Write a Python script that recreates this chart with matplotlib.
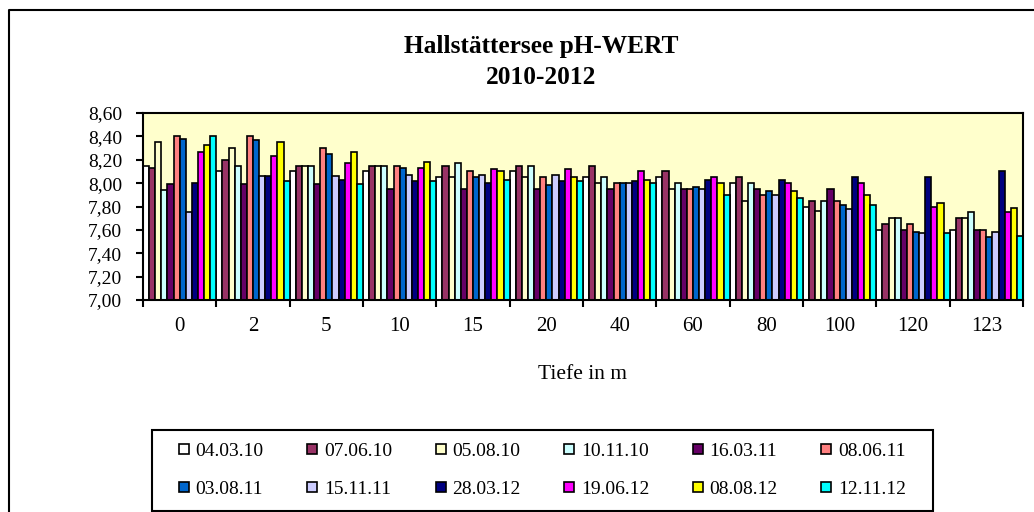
import matplotlib
matplotlib.use("Agg")
import matplotlib.pyplot as plt
import numpy as np
from matplotlib.lines import Line2D
from matplotlib.patches import Rectangle
from matplotlib.ticker import FixedLocator, FuncFormatter

plt.rcParams['font.family'] = ['Liberation Serif', 'DejaVu Serif']

depths = ["0", "2", "5", "10", "15", "20", "40", "60", "80", "100", "120", "123"]
dates = ["04.03.10", "07.06.10", "05.08.10", "10.11.10", "16.03.11", "08.06.11",
         "03.08.11", "15.11.11", "28.03.12", "19.06.12", "08.08.12", "12.11.12"]

s_040310 = [8.15, 8.10, 8.10, 8.10, 8.05, 8.10, 8.05, 8.05, 8.00, 7.80, 7.60, 7.60]
s_070610 = [8.13, 8.20, 8.15, 8.15, 8.15, 8.15, 8.15, 8.10, 8.05, 7.85, 7.65, 7.70]
s_050810 = [8.35, 8.30, 8.15, 8.15, 8.05, 8.05, 8.00, 7.95, 7.85, 7.76, 7.70, 7.70]
s_101110 = [7.94, 8.15, 8.15, 8.15, 8.17, 8.15, 8.05, 8.00, 8.00, 7.85, 7.70, 7.75]
s_160311 = [7.99, 7.99, 7.99, 7.95, 7.95, 7.95, 7.95, 7.95, 7.95, 7.95, 7.60, 7.60]
s_080611 = [8.40, 8.40, 8.30, 8.15, 8.10, 8.05, 8.00, 7.95, 7.90, 7.85, 7.65, 7.60]
s_030811 = [8.38, 8.37, 8.25, 8.13, 8.05, 7.98, 8.00, 7.97, 7.93, 7.81, 7.58, 7.54]
s_151111 = [7.75, 8.06, 8.06, 8.07, 8.07, 8.07, 8.00, 7.95, 7.90, 7.78, 7.57, 7.58]
s_280312 = [8.00, 8.06, 8.03, 8.02, 8.00, 8.02, 8.02, 8.03, 8.03, 8.05, 8.05, 8.10]
s_190612 = [8.27, 8.23, 8.17, 8.13, 8.12, 8.12, 8.10, 8.05, 8.00, 8.00, 7.80, 7.75]
s_080812 = [8.33, 8.35, 8.27, 8.18, 8.10, 8.05, 8.03, 8.00, 7.93, 7.90, 7.83, 7.79]
s_121112 = [8.40, 8.02, 7.99, 8.02, 8.03, 8.02, 8.00, 7.90, 7.87, 7.81, 7.57, 7.55]

series = [s_040310, s_070610, s_050810, s_101110, s_160311, s_080611,
          s_030811, s_151111, s_280312, s_190612, s_080812, s_121112]
colors = ['#FFFFFF', '#993366', '#FFFFCC', '#CCFFFF', '#660066', '#FF8080',
          '#0066CC', '#CCCCFF', '#000080', '#FF00FF', '#FFFF00', '#00FFFF']

W, H = 1034, 512
fig = plt.figure(figsize=(W / 100, H / 100), dpi=100)

def fx(px):
    return px / W

def fy(py):
    return 1 - py / H

ax = fig.add_axes([fx(143), fy(300), fx(1023) - fx(143), fy(113) - fy(300)])
ax.set_facecolor('#FFFFCC')

n = len(series)
bw = 1.0 / n
xc = np.arange(len(depths))
for j, (vals, c) in enumerate(zip(series, colors)):
    ax.bar(xc - 0.5 + (j + 0.5) * bw, vals, width=bw, color=c,
           edgecolor='black', linewidth=1.2, zorder=2)

ax.set_xlim(-0.5, len(depths) - 0.5)
ax.set_ylim(7.0, 8.6)
ax.set_yticks(np.arange(7.0, 8.61, 0.2))
ax.yaxis.set_major_formatter(FuncFormatter(lambda v, p: f"{v:.2f}".replace('.', ',')))
ax.tick_params(axis='y', direction='out', length=5, width=1.5, pad=10, labelsize=14)

ax.xaxis.set_major_locator(FixedLocator(np.arange(-0.5, len(depths), 1.0)))
ax.xaxis.set_major_formatter(FuncFormatter(lambda v, p: ""))
ax.xaxis.set_minor_locator(FixedLocator(xc))
ax.set_xticklabels(depths, minor=True)
ax.tick_params(axis='x', which='major', direction='out', length=5, width=1.5)
ax.tick_params(axis='x', which='minor', length=0, pad=12, labelsize=15)

for sp in ax.spines.values():
    sp.set_linewidth(1.5)
    sp.set_color('black')

ax.set_xlabel("Tiefe in m", fontsize=15.5, labelpad=21)

fig.text(fx(541), fy(47), "Hallstättersee pH-WERT", ha='center', va='center',
         fontsize=18.3, fontweight='bold')
fig.text(fx(541), fy(78), "2010-2012", ha='center', va='center',
         fontsize=18.3, fontweight='bold')

# outer chart border (left and top visible)
fig.add_artist(Line2D([fx(9), fx(9), fx(1040)], [fy(520), fy(10), fy(10)],
                      color='black', linewidth=1.5, transform=fig.transFigure))

# legend box
fig.add_artist(Rectangle((fx(152), fy(511)), fx(933) - fx(152), fy(430) - fy(511),
                         fill=False, edgecolor='black', linewidth=1.5,
                         transform=fig.transFigure))

handles = [Line2D([], [], linestyle='none', marker='s', markersize=7.5,
                  markerfacecolor=c, markeredgecolor='black', markeredgewidth=1.2)
           for c in colors]
order = [0, 6, 1, 7, 2, 8, 3, 9, 4, 10, 5, 11]
fig.legend([handles[i] for i in order], [dates[i] for i in order],
           loc='center', bbox_to_anchor=(fx(542), fy(470)), ncol=6, frameon=False,
           fontsize=14, handlelength=0.6, handletextpad=0.3, columnspacing=2.2,
           labelspacing=1.05, borderpad=0)

fig.savefig("out.png", dpi=100)
